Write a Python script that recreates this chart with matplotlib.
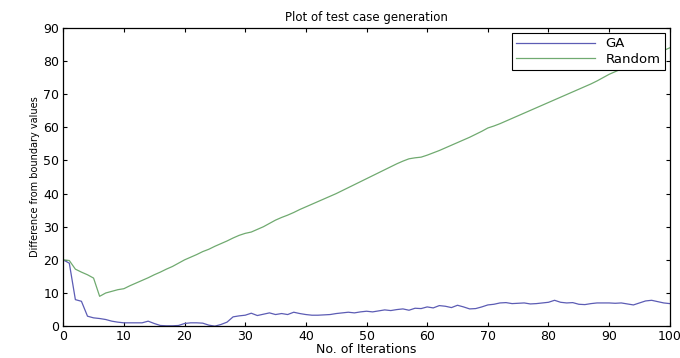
import numpy as np
import matplotlib.pyplot as plt

# iterations and difference from boundary values
iterations = list(range(0, 101))

ga = [20, 19, 8, 7.5, 3, 2.5, 2.3, 2, 1.5, 1.2,
      1, 1, 1, 1, 1.5, 0.8, 0.2, 0.1, 0.1, 0.2,
      0.8, 1, 1, 0.9, 0.3, 0, 0.5, 1.2, 2.8, 3.1,
      3.3, 3.9, 3.2, 3.6, 4, 3.5, 3.8, 3.5, 4.2, 3.8,
      3.5, 3.3, 3.3, 3.4, 3.5, 3.8, 4, 4.2, 4, 4.3,
      4.5, 4.3, 4.6, 4.9, 4.7, 5, 5.2, 4.8, 5.4, 5.3,
      5.8, 5.5, 6.2, 6, 5.6, 6.3, 5.8, 5.2, 5.3, 5.8,
      6.4, 6.6, 7, 7.1, 6.8, 6.9, 7, 6.7, 6.8, 7,
      7.2, 7.8, 7.2, 7, 7.1, 6.6, 6.5, 6.8, 7, 7,
      7, 6.9, 7, 6.7, 6.4, 7, 7.6, 7.8, 7.4, 7,
      6.8]

random_vals = [20, 19.8, 17.2, 16.3, 15.5, 14.5, 9, 10, 10.5, 11,
               11.3, 12.2, 13, 13.8, 14.6, 15.5, 16.3, 17.2, 18, 19,
               20, 20.8, 21.6, 22.5, 23.2, 24.1, 24.9, 25.7, 26.6, 27.4,
               28, 28.4, 29.2, 30, 31, 32, 32.8, 33.5, 34.3, 35.2,
               36, 36.8, 37.6, 38.4, 39.2, 40, 40.9, 41.8, 42.7, 43.6,
               44.5, 45.4, 46.3, 47.2, 48.1, 49, 49.8, 50.5, 50.8, 51,
               51.6, 52.3, 53, 53.8, 54.6, 55.4, 56.2, 57, 57.9, 58.8,
               59.8, 60.4, 61.1, 61.9, 62.7, 63.5, 64.3, 65.1, 65.9, 66.7,
               67.5, 68.3, 69.1, 69.9, 70.7, 71.5, 72.3, 73.1, 74, 75,
               76, 76.8, 77.6, 78.4, 79.2, 80, 80.8, 81.6, 82.4, 83.2,
               84]

fig = plt.figure(figsize=(6.8, 3.58), dpi=100)
ax = fig.add_axes([0.093, 0.089, 0.892, 0.833])

ax.plot(iterations, ga, color='#5c5cb4', lw=0.9, label='GA')
ax.plot(iterations, random_vals, color='#70aa70', lw=0.9, label='Random')

ax.set_xlim(0, 100)
ax.set_ylim(0, 90)
ax.set_xticks(np.arange(0, 101, 10))
ax.set_yticks(np.arange(0, 91, 10))
ax.tick_params(direction='in', top=True, right=True, labelsize=9,
               length=3, width=0.8, pad=3)
for sp in ax.spines.values():
    sp.set_linewidth(0.9)

ax.set_title('Plot of test case generation', fontsize=8.5, pad=5)
ax.set_xlabel('No. of Iterations', fontsize=9, labelpad=0)
ax.set_ylabel('Difference from boundary values', fontsize=7, labelpad=2)

leg = ax.legend(loc='upper right', fontsize=9.5, handlelength=6,
                fancybox=False, framealpha=1, edgecolor='black',
                borderaxespad=0.4, borderpad=0.3, labelspacing=0.2)
leg.get_frame().set_linewidth(0.8)

fig.savefig('out.png', dpi=100)
